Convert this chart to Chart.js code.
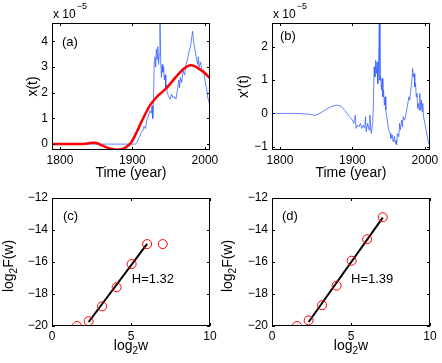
<!DOCTYPE html>
<html>
<head>
<meta charset="utf-8">
<script src="https://cdn.jsdelivr.net/npm/chart.js@4"></script>
<style>
  body { margin: 0; background: #fff; }
  #wrap { position: relative; width: 442px; height: 363px; }
  #wrap canvas { position: absolute; left: 0; top: 0; }
</style>
</head>
<body>
<div id="wrap">
  <canvas id="panel_a" width="442" height="363"></canvas>
  <canvas id="panel_b" width="442" height="363"></canvas>
  <canvas id="panel_c" width="442" height="363"></canvas>
  <canvas id="panel_d" width="442" height="363"></canvas>
</div>
<script>
// (a) x(t), raw series (blue) and smooth trend (red), units of 1e-5
const yearsA = [1789, 1904, 1906, 1908, 1910, 1912, 1914, 1916, 1918, 1920, 1922, 1924, 1926, 1927, 1928, 1929,
  1930, 1931, 1932, 1933, 1934, 1935, 1936, 1937, 1938, 1939, 1940, 1941, 1942, 1943, 1944, 1945, 1946, 1947, 1948,
  1950, 1952, 1954, 1956, 1958, 1960, 1962, 1964, 1965, 1966, 1968, 1970, 1972, 1974, 1976, 1978, 1980, 1982, 1983,
  1984, 1986, 1988, 1990, 1991, 1992, 1994, 1996, 1998, 2000, 2002, 2004, 2006, 2007];
const xA = [0, 0, 0.05, 0.2, 0.3, 0.45, 0.5, 0.7, 0.6, 0.95, 1.1, 1.3, 1.2, 1.5, 1.0, 1.6,
  3.2, 3.4, 3.0, 3.7, 3.3, 3.8, 3.1, 3.5, 4.8, 3.2, 2.6, 3.1, 2.8, 3.0, 2.5, 2.7, 2.2, 2.3, 2.0,
  1.85, 1.75, 1.95, 1.8, 1.85, 1.75, 2.1, 2.5, 2.2, 2.6, 2.4, 2.85, 2.7, 3.1, 3.3, 3.6, 3.8, 4.2, 4.4,
  4.1, 3.7, 3.4, 3.1, 3.4, 3.0, 3.2, 2.8, 2.9, 2.5, 2.2, 1.8, 1.6, 1.45];
const trendYears = [1789, 1800, 1820, 1835, 1845, 1850, 1858, 1868, 1878, 1885, 1892, 1898, 1905, 1910, 1915, 1920,
  1925, 1930, 1935, 1940, 1945, 1950, 1955, 1960, 1965, 1970, 1975, 1980, 1985, 1990, 1995, 2000, 2005, 2007];
const trendA = [0, 0, 0, 0.01, 0.05, 0.04, -0.05, -0.17, -0.22, -0.2, -0.1, 0.05, 0.42, 0.72, 1.02, 1.3,
  1.55, 1.72, 1.88, 2.0, 2.13, 2.28, 2.45, 2.62, 2.78, 2.92, 3.02, 3.07, 3.05, 2.97, 2.87, 2.76, 2.62, 2.56];

// (b) x'(t), units of 1e-5
const yearsB = [1789, 1800, 1820, 1840, 1848, 1855, 1862, 1870, 1878, 1884, 1890, 1896, 1900, 1902, 1904, 1905,
  1907, 1909, 1911, 1913, 1915, 1917, 1918, 1919, 1921, 1923, 1924, 1925, 1926, 1928, 1929, 1930, 1931, 1932,
  1933, 1934, 1935, 1936, 1937, 1938, 1939, 1940, 1941, 1942, 1943, 1944, 1945, 1946, 1948, 1950, 1952, 1953,
  1955, 1956, 1958, 1959, 1960, 1961, 1962, 1964, 1965, 1966, 1968, 1969, 1970, 1972, 1974, 1976, 1978, 1979,
  1980, 1982, 1983, 1984, 1985, 1986, 1987, 1988, 1989, 1990, 1991, 1992, 1993, 1994, 1995, 1996, 1997, 1998,
  2000, 2002, 2004, 2006, 2007];
const xPrimeB = [0, 0, 0, -0.02, -0.06, 0, 0.1, 0.2, 0.25, 0.22, 0.08, -0.1, -0.2, -0.3, -0.05, -0.45,
  -0.35, -0.4, -0.3, -0.45, -0.35, -0.45, -0.1, -0.55, -0.3, -0.5, -0.05, -0.35, -0.6, -0.3, 0.4, 1.4, 1.1, 1.6,
  1.2, 1.55, 0.9, 1.4, 2.8, 1.0, 1.1, 0.7, 1.05, 0.5, 0.7, 0.25, 0.5, 0.1, -0.2, -0.5, -0.6, -0.75,
  -0.65, -0.85, -0.7, -0.9, -0.8, -0.95, -0.6, -0.7, -0.3, -0.5, -0.2, -0.4, -0.1, -0.2, 0, 0.25, 0.5, 0.4,
  0.6, 1.0, 1.35, 1.1, 1.2, 0.8, 0.9, 0.5, 0.6, 0.15, 0.3, 0.1, 0.6, 0.1, 0.4, 0.05, 0.3, -0.1,
  -0.3, -0.55, -0.8, -0.95, -1.02];

// (c), (d) fluctuation function vs window size
const log2w = [1.58, 2.32, 3.17, 4.09, 5.04, 6.02, 7.01];
const log2F_c = [-20.0, -19.7, -18.77, -17.58, -16.13, -14.88, -14.88];
const log2F_d = [-20.0, -19.65, -18.7, -17.48, -15.92, -14.58, -13.2];
const fitW_c = [2.32, 6.02];
const fitF_c = [-19.75, -14.87];
const fitW_d = [2.32, 7.01];
const fitF_d = [-19.75, -13.23];
const hurstC = 'H=1.32';
const hurstD = 'H=1.39';

// tick labels
const timeTicks = [1800, 1900, 2000];
const ticksXA = [0, 1, 2, 3, 4];
const ticksXB = [-1, 0, 1, 2];
const ticksW = [0, 5, 10];
const ticksF = [-20, -18, -16, -14, -12];

const FONT = '"Liberation Sans", Arial, Helvetica, sans-serif';
const BLUE = 'rgba(50, 90, 255, 0.75)';
const RED = '#ff0000';

function toPoints(xs, ys) {
    return xs.map((x, i) => ({ x: x, y: ys[i] }));
}

function minusSign(v) {
    return String(v).replace('-', '\u2212');
}

function axis(min, max, tickList, isX) {
    return {
        type: 'linear',
        min: min,
        max: max,
        grid: { display: false, drawTicks: false },
        border: { display: false },
        afterBuildTicks: s => { s.ticks = tickList.map(v => ({ value: v })); },
        afterFit: s => { if (isX) s.height = 20; else s.width = 30; },
        ticks: {
            color: '#000',
            padding: isX ? 3 : 4,
            font: { family: FONT, size: 12 },
            callback: v => minusSign(v)
        }
    };
}

// box, inward ticks on all sides, and the panel texts
function framePlugin(drawText) {
    return {
        id: 'frame',
        afterDraw(chart) {
            const c = chart.ctx, a = chart.chartArea;
            const sx = chart.scales.x, sy = chart.scales.y;
            c.save();
            c.strokeStyle = '#000';
            c.lineWidth = 1;
            c.strokeRect(a.left + 0.5, a.top + 0.5, a.right - a.left - 1, a.bottom - a.top - 1);
            c.beginPath();
            sx.ticks.forEach(t => {
                const p = Math.round(sx.getPixelForValue(t.value)) + 0.5;
                c.moveTo(p, a.bottom); c.lineTo(p, a.bottom - 3);
                c.moveTo(p, a.top); c.lineTo(p, a.top + 3);
            });
            sy.ticks.forEach(t => {
                const p = Math.round(sy.getPixelForValue(t.value)) + 0.5;
                c.moveTo(a.left, p); c.lineTo(a.left + 3, p);
                c.moveTo(a.right, p); c.lineTo(a.right - 3, p);
            });
            c.stroke();
            c.fillStyle = '#000';
            c.textBaseline = 'middle';
            drawText(c, a, sx, sy);
            c.restore();
        }
    };
}

// text pieces: [string, isSubscript]; centred on (0,0) of the current transform
function richText(c, parts) {
    const widths = parts.map(p => {
        c.font = (p[1] ? '10px ' : '14px ') + FONT;
        return c.measureText(p[0]).width;
    });
    let x = -widths.reduce((s, w) => s + w, 0) / 2;
    c.textAlign = 'left';
    parts.forEach((p, i) => {
        c.font = (p[1] ? '10px ' : '14px ') + FONT;
        c.fillText(p[0], x, p[1] ? 5 : 0);
        x += widths[i];
    });
}

function yTitle(c, parts, x, y) {
    c.save();
    c.translate(x, y);
    c.rotate(-Math.PI / 2);
    richText(c, parts);
    c.restore();
}

function xTitle(c, parts, x, y) {
    c.save();
    c.translate(x, y);
    richText(c, parts);
    c.restore();
}

function tag(c, text, x, y) {
    c.textAlign = 'left';
    c.font = '13px ' + FONT;
    c.fillText(text, x, y);
}

function exponent(c, a) {
    c.textAlign = 'left';
    c.font = '12px ' + FONT;
    c.fillText('x 10', a.left + 1, a.top - 8);
    const w = c.measureText('x 10').width;
    c.font = '9px ' + FONT;
    c.fillText('\u22125', a.left + 2 + w, a.top - 16);
}

function makePanel(id, area, xScale, yScale, datasets, drawText) {
    new Chart(document.getElementById(id), {
        type: 'line',
        data: { datasets: datasets },
        options: {
            responsive: false,
            animation: false,
            events: [],
            layout: {
                padding: { left: area.left - 30, right: 442 - area.right, top: area.top, bottom: 363 - area.bottom - 20 }
            },
            plugins: { legend: { display: false }, tooltip: { enabled: false } },
            scales: { x: xScale, y: yScale }
        },
        plugins: [framePlugin(drawText)]
    });
}

// (a)
makePanel('panel_a', { left: 52, right: 210, top: 23, bottom: 150 },
    axis(1789, 2007, timeTicks, true), axis(-0.23, 4.72, ticksXA, false),
    [
        { data: toPoints(trendYears, trendA), borderColor: RED, borderWidth: 2.5, pointRadius: 0, tension: 0.4 },
        { data: toPoints(yearsA, xA), borderColor: BLUE, borderWidth: 1, pointRadius: 0, tension: 0 }
    ],
    (c, a) => {
        exponent(c, a);
        tag(c, '(a)', a.left + 10, a.top + 19);
        yTitle(c, [['x(t)', false]], a.left - 19, (a.top + a.bottom) / 2);
        xTitle(c, [['Time (year)', false]], (a.left + a.right) / 2, a.bottom + 23);
    });

// (b)
makePanel('panel_b', { left: 272, right: 430, top: 23, bottom: 150 },
    axis(1789, 2007, timeTicks, true), axis(-1.1, 2.72, ticksXB, false),
    [
        { data: toPoints(yearsB, xPrimeB), borderColor: BLUE, borderWidth: 1, pointRadius: 0, tension: 0 }
    ],
    (c, a) => {
        exponent(c, a);
        tag(c, '(b)', a.left + 8, a.top + 13);
        yTitle(c, [["x'(t)", false]], a.left - 28, (a.top + a.bottom) / 2);
        xTitle(c, [['Time (year)', false]], (a.left + a.right) / 2, a.bottom + 23);
    });

// (c)
makePanel('panel_c', { left: 52, right: 210, top: 198, bottom: 326 },
    axis(0, 10, ticksW, true), axis(-20, -12, ticksF, false),
    [
        { data: toPoints(log2w, log2F_c), showLine: false, pointRadius: 4.5, pointBorderWidth: 1,
          pointBorderColor: RED, pointBackgroundColor: 'rgba(0,0,0,0)' },
        { data: toPoints(fitW_c, fitF_c), borderColor: '#000', borderWidth: 2, pointRadius: 0 }
    ],
    (c, a, sx, sy) => {
        tag(c, '(c)', a.left + 11, a.top + 18);
        tag(c, hurstC, sx.getPixelForValue(5.05), sy.getPixelForValue(-17.1));
        yTitle(c, [['log', false], ['2', true], ['F(w)', false]], a.left - 43, (a.top + a.bottom) / 2 + 4);
        xTitle(c, [['log', false], ['2', true], ['w', false]], (a.left + a.right) / 2, a.bottom + 20);
    });

// (d)
makePanel('panel_d', { left: 272, right: 430, top: 198, bottom: 326 },
    axis(0, 10, ticksW, true), axis(-20, -12, ticksF, false),
    [
        { data: toPoints(log2w, log2F_d), showLine: false, pointRadius: 4.5, pointBorderWidth: 1,
          pointBorderColor: RED, pointBackgroundColor: 'rgba(0,0,0,0)' },
        { data: toPoints(fitW_d, fitF_d), borderColor: '#000', borderWidth: 2, pointRadius: 0 }
    ],
    (c, a, sx, sy) => {
        tag(c, '(d)', a.left + 10, a.top + 18);
        tag(c, hurstD, sx.getPixelForValue(5.0), sy.getPixelForValue(-17.1));
        yTitle(c, [['log', false], ['2', true], ['F(w)', false]], a.left - 44, (a.top + a.bottom) / 2 + 4);
        xTitle(c, [['log', false], ['2', true], ['w', false]], (a.left + a.right) / 2, a.bottom + 20);
    });
</script>
</body>
</html>
